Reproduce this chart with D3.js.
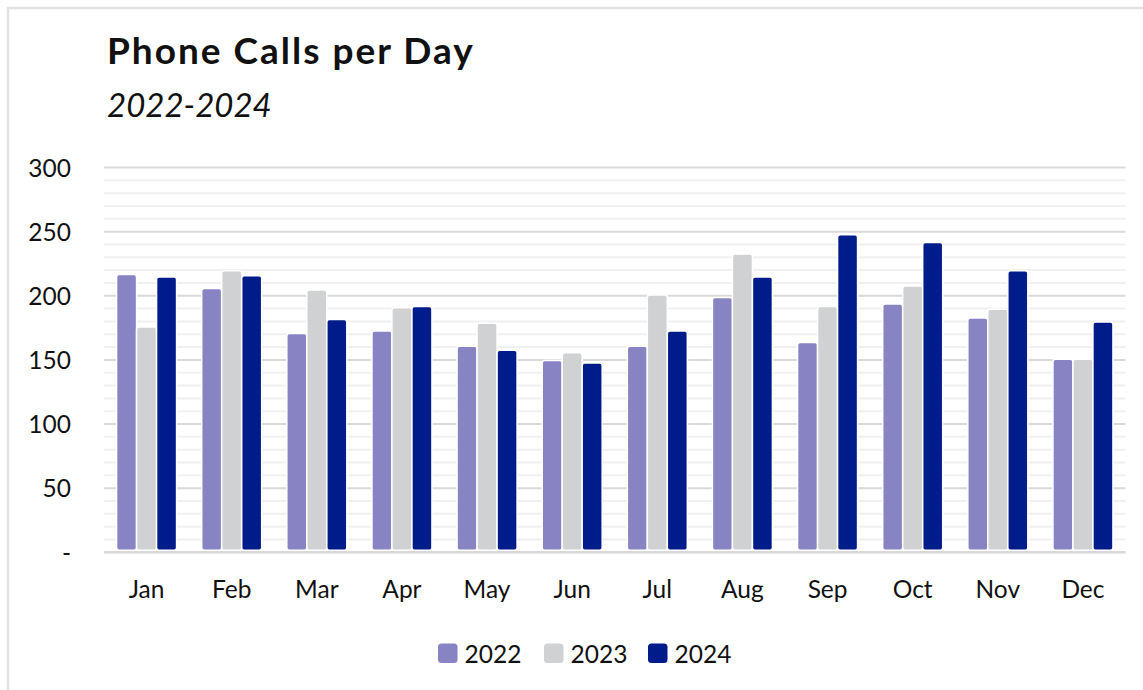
<!DOCTYPE html>
<html>
<head>
<meta charset="utf-8">
<script src="https://cdn.jsdelivr.net/npm/d3@7"></script>
<style>
  body { margin: 0; background: #fff; }
  text { font-family: Lato, "Noto Sans", sans-serif; fill: #111; }
</style>
</head>
<body>
<svg id="viz"></svg>
<script>
// chart data
var months = ["Jan","Feb","Mar","Apr","May","Jun","Jul","Aug","Sep","Oct","Nov","Dec"];
var years = ["2022","2023","2024"];
var calls2022 = [216, 205, 170, 172, 160, 149, 160, 198, 163, 193, 182, 150];
var calls2023 = [175, 219, 204, 190, 178, 155, 200, 232, 191, 207, 189, 150];
var calls2024 = [214, 215, 181, 191, 157, 147, 172, 214, 247, 241, 219, 179];
var yTicks = [0, 50, 100, 150, 200, 250, 300];
var colors = ["#8884c4", "#d0d1d3", "#001c8a"];

var width = 1143, height = 690;
var svg = d3.select("#viz").attr("width", width).attr("height", height);

// frame (only top/left edges visible)
svg.append("path")
    .attr("d", "M8,690 V8 H1143")
    .attr("fill", "none")
    .attr("stroke", "#e3e3e3")
    .attr("stroke-width", 2.5);

var x0 = d3.scaleBand().domain(months).range([104, 1125.5]);
var groupW = 60;
var x1 = d3.scaleBand().domain(years).range([0, groupW]);
var y = d3.scaleLinear().domain([0, 300]).range([552.3, 167.5]);

// minor gridlines every 10
var minor = d3.range(10, 300, 10).filter(function(v) { return v % 50 != 0; });
svg.append("g").selectAll("line").data(minor).enter().append("line")
    .attr("x1", 104).attr("x2", 1125.5)
    .attr("y1", function(d) { return y(d); })
    .attr("y2", function(d) { return y(d); })
    .attr("stroke", "#f0f0f0").attr("stroke-width", 2);

svg.append("g").selectAll("line").data(yTicks).enter().append("line")
    .attr("x1", 104).attr("x2", 1125.5)
    .attr("y1", function(d) { return y(d); })
    .attr("y2", function(d) { return y(d); })
    .attr("stroke", "#d9d9d9").attr("stroke-width", 2);

// y axis labels
var yAxis = d3.axisLeft(y).tickValues(yTicks).tickSize(0).tickPadding(0)
    .tickFormat(function(d) { return d == 0 ? "-" : d; });
var ya = svg.append("g").attr("transform", "translate(71,0)").call(yAxis);
ya.select(".domain").remove();
ya.selectAll("text").attr("font-size", 24.5).attr("font-family", "Lato").attr("fill", "#111")
    .attr("dy", "0.36em");

// bars
var series = [calls2022, calls2023, calls2024];
var rows = months.map(function(m, i) {
    return { month: m, vals: years.map(function(yr, j) { return { year: yr, idx: j, v: series[j][i] }; }) };
});
var groups = svg.append("g").selectAll("g").data(rows).enter().append("g")
    .attr("transform", function(d) { return "translate(" + (x0(d.month) + (x0.bandwidth() - groupW) / 2) + ",0)"; });
groups.selectAll("rect").data(function(d) { return d.vals; }).enter().append("rect")
    .attr("x", function(d) { return x1(d.year); })
    .attr("width", x1.bandwidth())
    .attr("y", function(d) { return y(d.v) - 0.75; })
    .attr("height", function(d) { return y(0) - 2 - y(d.v) + 0.75; })
    .attr("rx", 2.5)
    .attr("fill", function(d) { return colors[d.idx]; })
    .attr("stroke", "#fff").attr("stroke-width", 1.5);

// x axis line
svg.append("line").attr("x1", 104).attr("x2", 1125.5)
    .attr("y1", y(0)).attr("y2", y(0))
    .attr("stroke", "#d9d9d9").attr("stroke-width", 2.5);

var xAxis = d3.axisBottom(x0).tickSize(0).tickPadding(0);
var xa = svg.append("g").attr("transform", "translate(0,598)").call(xAxis);
xa.select(".domain").remove();
xa.selectAll("text").attr("font-size", 24.5).attr("font-family", "Lato").attr("fill", "#111")
    .attr("dy", 0).attr("y", 0);

// title
svg.append("text").attr("x", 107).attr("y", 64)
    .attr("font-size", 37).attr("font-weight", "bold").attr("letter-spacing", 2)
    .text("Phone Calls per Day");
svg.append("text").attr("x", 107).attr("y", 117.3)
    .attr("font-size", 33).attr("font-style", "italic").text("2022-2024");

// legend
var legX = [438, 544, 648];
var leg = svg.append("g").selectAll("g").data(years).enter().append("g")
    .attr("transform", function(d, i) { return "translate(" + legX[i] + ",0)"; });
leg.append("rect").attr("x", 0).attr("y", 643.5).attr("width", 19.5).attr("height", 19.5)
    .attr("rx", 3.5).attr("fill", function(d, i) { return colors[i]; });
leg.append("text").attr("x", 26.5).attr("y", 663.3).attr("font-size", 24.5).text(function(d) { return d; });
</script>
</body>
</html>
